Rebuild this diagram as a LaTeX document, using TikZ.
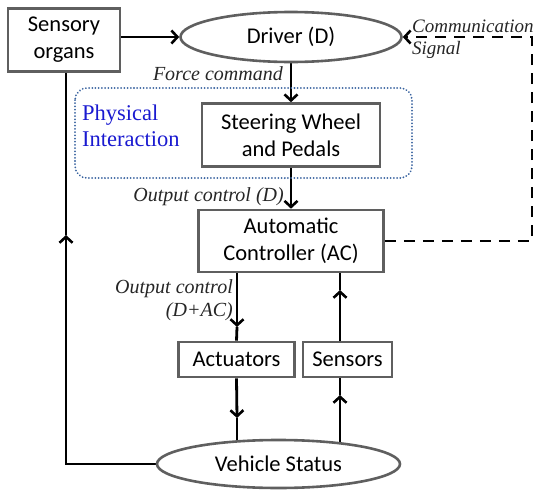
\documentclass[tikz,border=0pt]{standalone}
\usepackage{fontspec}
\setmainfont{Carlito}
\newfontfamily\serifit{Liberation Serif}
\usetikzlibrary{arrows.meta,shapes.geometric,backgrounds}
\definecolor{boxgray}{HTML}{5F5F5F}
\definecolor{dotblue}{HTML}{3A64A0}
\definecolor{physblue}{HTML}{1A1AD0}
\tikzset{
  block/.style={draw=boxgray, line width=2.6pt, fill=white, rectangle, align=center,
    font=\fontsize{22.5}{27}\selectfont, inner sep=0pt},
  oval/.style={draw=boxgray, line width=2.6pt, fill=white, ellipse, inner sep=0pt,
    font=\fontsize{22.5}{27}\selectfont},
  link/.style={line width=2.8pt, black},
  tipend/.style={-{Straight Barb[length=6pt,width=13pt,line width=2.6pt]}},
  lbl/.style={font=\serifit\itshape\fontsize{20}{23}\selectfont, inner sep=0pt, text=black!85},
}
\begin{document}
\begin{tikzpicture}[x=1pt,y=-1pt]
\useasboundingbox (0,0) rectangle (539,490);

% physical interaction region
\draw[dotblue, line width=2pt, dash pattern=on 0.01pt off 3.2pt, line cap=round, rounded corners=12pt]
  (75,88) rectangle (412,178);
\node[anchor=west, align=left, text=physblue, inner sep=0pt,
  font=\serifit\fontsize{22.5}{26}\selectfont] (phys) at (82,126) {Physical\\Interaction};

% blocks
\node[block, minimum width=112pt, minimum height=63pt] (sens) at (64,40) {Sensory\\organs};
\node[oval, minimum width=221pt, minimum height=50pt] (driver) at (291,37) {Driver (D)};
\node[block, minimum width=178pt, minimum height=63pt] (steer) at (291,135) {Steering Wheel\\and Pedals};
\node[block, minimum width=185pt, minimum height=62pt] (ac) at (291,241) {Automatic\\Controller (AC)};
\node[block, minimum width=116pt, minimum height=35pt] (act) at (236.5,359.5) {Actuators};
\node[block, minimum width=89pt, minimum height=35pt] (sensr) at (347.5,359.5) {Sensors};
\node[oval, minimum width=243pt, minimum height=48pt] (veh) at (278.5,464) {Vehicle Status};

% bends and arrowhead points along the connectors
\coordinate (aclow) at (237,272);
\coordinate (acup) at (340,272);
\coordinate (left) at (66,464);
\coordinate (right) at (532,0);
\coordinate (actin) at (237,452);
\coordinate (sensout) at (340,452);
\coordinate (tipA) at (237,327);
\coordinate (tipB) at (237,418);
\coordinate (tipC) at (340,395);
\coordinate (tipD) at (340,290);
\coordinate (tipE) at (66,235);

% connectors sit behind the blocks, so the blocks trim their ends
\begin{scope}[on background layer]
\draw[link, tipend] (sens.east |- driver.west) -- (driver.west);
\draw[link, tipend] (driver.south) -- (steer.north);
\draw[link, tipend] (steer.south) -- (ac.north);
\draw[link, tipend] (aclow) -- (tipA);
\draw[link] (tipA) -- (act.north);
\draw[link, tipend] (act.south) -- (tipB);
\draw[link] (tipB) -- (actin);
\draw[link, tipend] (sensout) -- (tipC);
\draw[link] (tipC) -- (sensr.south -| tipC);
\draw[link, tipend] (sensr.north -| tipD) -- (tipD);
\draw[link] (tipD) -- (acup);
\draw[link, tipend] (veh.west) -- (left) -- (tipE);
\draw[link] (tipE) -- (left |- sens.south);
\end{scope}

% communication signal
\draw[line width=2.8pt, dash pattern=on 11pt off 8pt, tipend]
  (ac.east) -- (ac.east -| right) -- (driver.east -| right) -- (driver.east);

% labels
\node[lbl, anchor=east] (lforce) at (283,74) {Force command};
\node[lbl, anchor=east] (lout1) at (284,197) {Output control (D)};
\node[lbl, anchor=east, align=right] (lout2) at (233,300) {Output control\\(D+AC)};
\node[lbl, anchor=west, align=left, font=\serifit\itshape\fontsize{19}{22}\selectfont]
  (lcomm) at (412,39) {Communication\\Signal};
\end{tikzpicture}
\end{document}
